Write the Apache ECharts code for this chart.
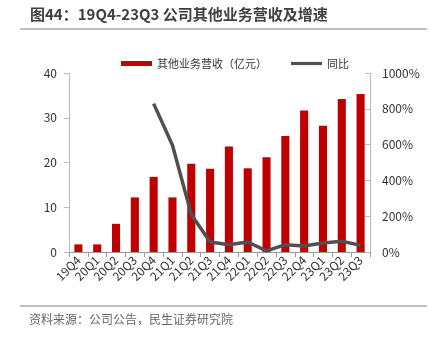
<!DOCTYPE html>
<html><head><meta charset="utf-8">
<script src="https://cdn.jsdelivr.net/npm/echarts@6/dist/echarts.min.js"></script>
<style>html,body{margin:0;padding:0;background:#fff}#c{width:431px;height:338px}</style>
</head><body><div id="c"></div>
<script>
const categories = ['19Q4','20Q1','20Q2','20Q3','20Q4','21Q1','21Q2','21Q3','21Q4','22Q1','22Q2','22Q3','22Q4','23Q1','23Q2','23Q3'];
const revenue = [1.7,1.7,6.3,12.2,16.8,12.2,19.7,18.6,23.6,18.7,21.2,25.9,31.6,28.2,34.2,35.3];
const yoy = [null,null,null,null,829,596,210,56,41,56,6,41,34,50,60,37];
const leftTicks = [0,10,20,30,40];
const rightTicks = ['0%','200%','400%','600%','800%','1000%'];

const chart = echarts.init(document.getElementById('c'));
const font = '"Noto Sans CJK SC","Noto Sans",sans-serif';
chart.setOption({
  animation:false,
  textStyle:{fontFamily:font},
  graphic:[
    {type:'text',left:30,top:7,style:{text:'图44：19Q4-23Q3 公司其他业务营收及增速',font:'bold 15px '+font,fill:'#404040'}},
    {type:'line',shape:{x1:20,y1:29,x2:427,y2:29},style:{stroke:'#7f7f7f',lineWidth:1}},
    {type:'line',shape:{x1:20,y1:306,x2:427,y2:306},style:{stroke:'#7f7f7f',lineWidth:1}},
    {type:'text',left:29,top:313,style:{text:'资料来源：公司公告，民生证券研究院',font:'12px '+font,fill:'#666'}}
  ],
  legend:{top:53,left:116,itemGap:24,itemWidth:31,itemHeight:5,textStyle:{fontSize:11,color:'#333'},
    data:[{name:'其他业务营收（亿元）',icon:'rect'},
          {name:'同比',icon:'path://M0,0 L31,0 L31,3.2 L0,3.2 Z',itemStyle:{color:'#505050',borderWidth:0}}]},
  grid:{left:69,right:61,top:73,bottom:86},
  xAxis:{type:'category',data:categories,
    axisLine:{lineStyle:{color:'#999'}},axisTick:{show:true,alignWithLabel:false,lineStyle:{color:'#999'}},
    axisLabel:{rotate:45,fontSize:12,color:'#333',interval:0,margin:6}},
  yAxis:[
    {type:'value',min:0,max:40,interval:10,splitLine:{show:false},
     axisLine:{show:true,lineStyle:{color:'#bbb'}},axisTick:{show:true,lineStyle:{color:'#bbb'}},
     axisLabel:{fontSize:12,color:'#333',margin:12}},
    {type:'value',min:0,max:1000,interval:200,splitLine:{show:false},
     axisLine:{show:true,lineStyle:{color:'#bbb'}},axisTick:{show:true,inside:true,lineStyle:{color:'#bbb'}},
     axisLabel:{fontSize:12,color:'#333',margin:12,formatter:v=>rightTicks[v/200]}}
  ],
  series:[
    {name:'其他业务营收（亿元）',type:'bar',data:revenue,barWidth:'43%',itemStyle:{color:'#c00000'}},
    {name:'同比',type:'line',yAxisIndex:1,data:yoy,symbol:'none',smooth:false,
     lineStyle:{color:'#505050',width:3.5},itemStyle:{color:'#505050'}}
  ]
});
</script></body></html>
